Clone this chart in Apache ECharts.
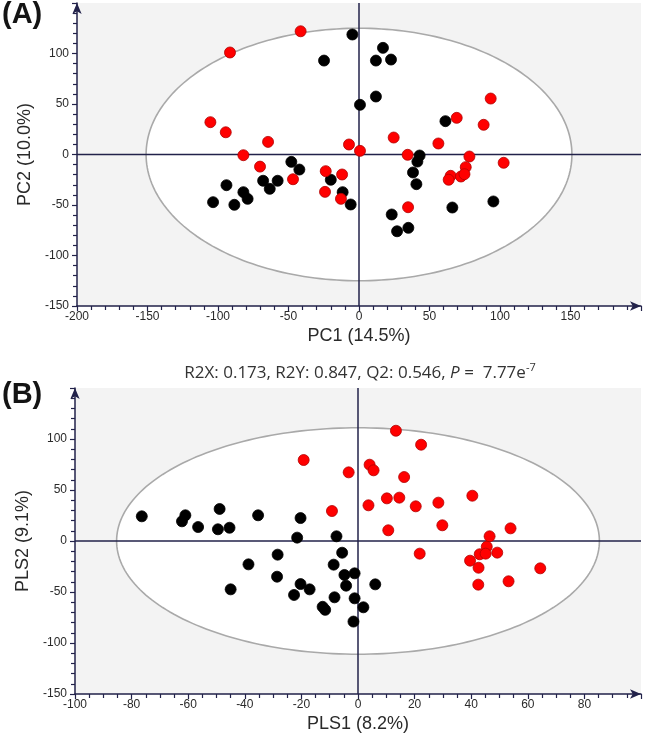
<!DOCTYPE html>
<html><head><meta charset="utf-8">
<script src="https://cdn.jsdelivr.net/npm/echarts@6/dist/echarts.min.js"></script>
<style>html,body{margin:0;padding:0;background:#fff}#c{width:645px;height:736px}</style>
</head><body><div id="c"></div>
<script>
// ---- Data ----
const pcaRed = [[-41.4,122],[-91.5,101],[-105.4,32],[-94.5,22],[-64.5,12.5],[-82,-0.7],[-70.2,-12],[-46.8,-24.5],[-23.6,-16.5],[-12,-19.8],[-24.1,-37],[-12.8,-43.9],[-7.1,9.9],[0.7,3.6],[24.6,16.8],[34.5,-0.3],[34.8,-52.2],[93.4,55.4],[69.3,36.3],[88.4,29.4],[56.3,10.9],[78.3,-2],[102.6,-8.2],[75.7,-12.5],[65,-21.1],[63.6,-25],[72.3,-21.8],[74.8,-19.5]];
const pcaBlack = [[-4.7,118.8],[-24.8,93],[17,105.6],[12,93],[22.7,94],[12,57.4],[0.7,49.2],[-48,-7.3],[-42.3,-14.9],[-68,-26],[-57.7,-26],[-63.3,-34],[-94,-30.4],[-82,-37.3],[-79,-43.9],[-103.5,-47.2],[-88.4,-49.8],[-20,-25],[-11.6,-37.3],[-5.9,-49.5],[23.2,-59.4],[27,-76],[35,-72.6],[61.3,33],[43,-1],[41.4,-7],[38.3,-17.8],[40.7,-29.4],[66.2,-52.5],[95.3,-46.5]];
const plsRed = [[13.4,108.1],[22.3,94.4],[4.1,74.8],[5.5,69.3],[16.3,62.7],[3.7,35],[10.2,41.8],[14.6,42.5],[20.4,34],[28.4,37.6],[40.4,44.4],[10.7,10.5],[29.8,15.4],[53.9,12.4],[46.5,4.6],[45.5,-5.6],[43,-13],[45.1,-12.4],[49.2,-11.4],[39.6,-19.3],[42.6,-26.2],[21.8,-12.4],[64.4,-26.8],[42.5,-42.8],[53.2,-39.5],[-19.2,79.4],[-3.3,67.3],[-9.2,29.4]];
const plsBlack = [[-76.4,24.2],[-61,25.2],[-62.2,19.3],[-56.5,13.7],[-48.9,31.4],[-49.5,11.5],[-45.4,13],[-35.3,25.2],[-20.3,22.5],[-21.5,3.3],[-7.6,4.6],[-5.6,-11.5],[-28.4,-13.4],[-38.7,-22.9],[-28.6,-35],[-8.6,-23.2],[-4.8,-33.3],[-1.2,-31.7],[-20.3,-42.2],[-17.1,-47.4],[-45,-47.4],[-22.6,-52.9],[-4.2,-43.8],[-8.3,-55.2],[-12.5,-64.5],[-11.6,-67.5],[-1.2,-56.2],[-1.6,-79],[6.1,-42.5],[1.9,-65]];
const pcaEllipse = [151, 125];
const plsEllipse = [85.3, 111];
const pcaXRange = [-200, 200, 50];
const pcaYRange = [-150, 150, 50];
const plsXRange = [-100, 100, 20];
const plsYRange = [-150, 150, 50];
const pcaXName = 'PC1 (14.5%)', pcaYName = 'PC2 (10.0%)';
const plsXName = 'PLS1 (8.2%)', plsYName = 'PLS2 (9.1%)';

const AX = '#22224a';
const LBL = {color:'#2a2a2a', fontSize:12, fontFamily:'Liberation Sans, Arial'};
const NAME = {color:'#2a2a2a', fontSize:18, fontFamily:'Liberation Sans, Arial'};

function xAxis(idx, r, name, split) {
  return {gridIndex: idx, type:'value', min:r[0], max:r[1], interval:r[2],
    name:name, nameLocation:'middle', nameGap:21, nameTextStyle:NAME,
    axisLine:{show:true, onZero:false, lineStyle:{color:AX, width:1.5}, symbol:['none','arrow'], symbolSize:[7,11]},
    axisTick:{show:true, length:5, lineStyle:{color:AX, width:1.2}},
    minorTick:{show:true, splitNumber:split, length:4, lineStyle:{color:AX, width:1.2}},
    axisLabel:Object.assign({showMaxLabel:false, margin:5}, LBL),
    splitLine:{show:false}, minorSplitLine:{show:false}};
}
function yAxis(idx, r, name) {
  return {gridIndex: idx, type:'value', min:r[0], max:r[1], interval:r[2],
    name:name, nameLocation:'middle', nameGap:38, nameTextStyle:NAME,
    axisLine:{show:true, onZero:false, lineStyle:{color:AX, width:1.5}, symbol:['none','arrow'], symbolSize:[7,11]},
    axisTick:{show:true, length:5, lineStyle:{color:AX, width:1.2}},
    minorTick:{show:true, splitNumber:5, length:4, lineStyle:{color:AX, width:1.2}},
    axisLabel:Object.assign({showMaxLabel:false, margin:8}, LBL),
    splitLine:{show:false}, minorSplitLine:{show:false}};
}
function ellipseSeries(idx, radii, xr, yr) {
  return {type:'custom', xAxisIndex:idx, yAxisIndex:idx, z:1, silent:true, data:[[0,0]],
    renderItem: function(params, api) {
      const pts = [];
      for (let i = 0; i <= 240; i++) {
        const t = i / 240 * 2 * Math.PI;
        pts.push(api.coord([radii[0]*Math.cos(t), radii[1]*Math.sin(t)]));
      }
      const h0 = api.coord([xr[0],0]), h1 = api.coord([xr[1],0]);
      const v0 = api.coord([0,yr[0]]), v1 = api.coord([0,yr[1]]);
      return {type:'group', children:[
        {type:'polygon', shape:{points:pts}, style:{fill:'#ffffff', stroke:'#a9a9a9', lineWidth:1.6}},
        {type:'line', shape:{x1:h0[0],y1:h0[1],x2:h1[0],y2:h1[1]}, style:{stroke:AX, lineWidth:1.5}},
        {type:'line', shape:{x1:v0[0],y1:v0[1],x2:v1[0],y2:v1[1]}, style:{stroke:AX, lineWidth:1.5}}
      ]};
    }};
}
function scatter(idx, data, color, border) {
  return {type:'scatter', xAxisIndex:idx, yAxisIndex:idx, z:3, data:data, symbolSize:11,
    itemStyle:{color:color, borderColor:border, borderWidth:0.8, opacity:1}};
}

const chart = echarts.init(document.getElementById('c'), null, {renderer:'canvas'});
chart.setOption({
  animation:false,
  backgroundColor:'#ffffff',
  grid:[
    {left:77, top:3, width:564, height:303, show:true, backgroundColor:'#f3f3f3', borderWidth:0},
    {left:75, top:388, width:566, height:306, show:true, backgroundColor:'#f3f3f3', borderWidth:0}
  ],
  xAxis:[xAxis(0, pcaXRange, pcaXName, 5), xAxis(1, plsXRange, plsXName, 4)],
  yAxis:[yAxis(0, pcaYRange, pcaYName), yAxis(1, plsYRange, plsYName)],
  graphic:[
    {type:'text', left:2, top:0, style:{text:'(A)', fontSize:29, fontWeight:'bold', fill:'#141414', fontFamily:'Liberation Sans, Arial'}},
    {type:'text', left:2, top:380, style:{text:'(B)', fontSize:29, fontWeight:'bold', fill:'#141414', fontFamily:'Liberation Sans, Arial'}},
    {type:'text', x:360, y:373, style:{
      text:'{n|R2X: 0.173, R2Y: 0.847, Q2: 0.546, }{i|P}{n| =  7.77e}{s|-7}',
      align:'center', verticalAlign:'middle',
      rich:{
        n:{fontSize:17, fontFamily:'Open Sans', fill:'#333', lineHeight:22},
        i:{fontSize:17, fontFamily:'Open Sans', fontStyle:'italic', fill:'#333', lineHeight:22},
        s:{fontSize:11, fontFamily:'Open Sans', fill:'#333', lineHeight:22, verticalAlign:'top'}
      }}}
  ],
  series:[
    ellipseSeries(0, pcaEllipse, pcaXRange, pcaYRange),
    scatter(0, pcaBlack, '#000000', '#000000'),
    scatter(0, pcaRed, '#ff0000', '#b00000'),
    ellipseSeries(1, plsEllipse, plsXRange, plsYRange),
    scatter(1, plsBlack, '#000000', '#000000'),
    scatter(1, plsRed, '#ff0000', '#b00000')
  ]
});
</script></body></html>
